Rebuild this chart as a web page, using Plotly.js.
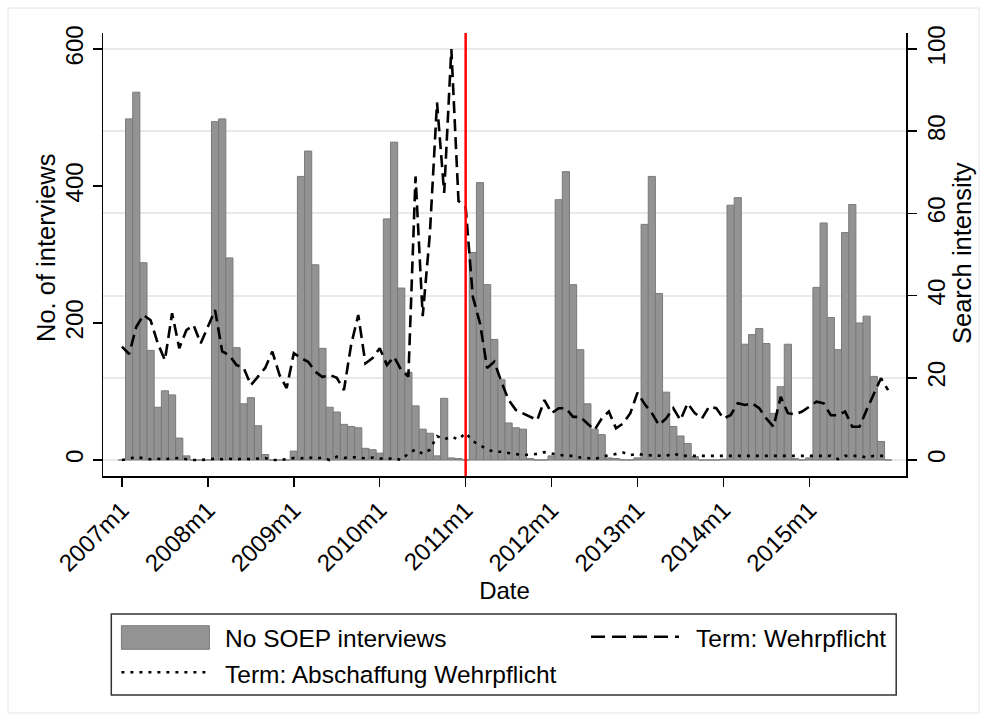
<!DOCTYPE html>
<html>
<head>
<meta charset="utf-8">
<script src="https://cdn.plot.ly/plotly-3.0.1.min.js"></script>
<style>html,body{margin:0;padding:0;background:#fff;}#chart{width:987px;height:723px;}</style>
</head>
<body>
<div id="chart"></div>
<script>
// Monthly data, 2007m1 ... 2015m12
const tickLabels = ["2007m1","2008m1","2009m1","2010m1","2011m1","2012m1","2013m1","2014m1","2015m1"];

// No. of SOEP interviews per month (left axis)
const interviews = [
  0,498,537,288,160,77,101,95,32,6,0,0,        // 2007
  0,494,498,295,164,82,91,50,8,0,0,0,          // 2008
  13,414,451,285,163,77,70,52,49,47,17,15,     // 2009
  10,352,464,251,128,79,45,39,6,90,3,2,        // 2010
  0,303,405,256,176,117,54,47,45,2,0,0,        // 2011
  6,380,421,256,161,82,45,37,3,2,0,0,          // 2012
  3,344,414,243,99,49,35,24,5,0,0,0,           // 2013
  1,372,383,169,183,192,170,68,107,169,2,0,    // 2014
  3,252,346,208,161,332,373,200,210,122,27,0   // 2015
];

// Search intensity "Wehrpflicht" (right axis)
const wehrpflicht = [
  27.6,25.8,32.4,35.3,34,28.4,24.3,35.7,27.2,31.6,32.8,28.4,
  32.4,36.5,26.4,25.5,23.1,22.4,18.2,20.2,22.4,26.4,20.7,17.5,
  26,24.8,23.9,21.5,20.2,20.7,20,17,28,35.3,23.5,24.8,
  27.2,23.1,25.1,21.9,20.3,69,35,55,87,65,100,63,
  61.6,39.7,33.3,22.4,23.9,19,14.6,12.2,11.4,10.7,9.7,14.6,
  11.4,12.6,12.6,10.5,10.5,8.9,7.3,10.1,11.8,7.7,8.9,11.4,
  16.4,13.6,11.4,8.5,10.1,12.6,9.7,13.8,11.4,10.1,13,12.6,
  10.1,10.9,13.8,13.4,13.8,12.6,10.1,8.1,15.4,11.4,11.1,11.8,
  13.1,14.2,13.8,10.9,10.9,11.8,8.1,8.1,12.2,16.2,19.9,17
];

// Search intensity "Abschaffung Wehrpflicht" (right axis)
const abschaffung = [
  0,0.3,0.8,0.4,0.2,0.3,0.2,0.3,0.5,0.2,0,0,
  0.2,0.3,0.2,0.3,0.2,0.3,0.2,0.3,0.5,0,0,0.2,
  0.5,0.4,0.7,0.3,0.6,0,0.8,0.5,0.7,0.6,0.4,0.6,
  0.4,0.2,0.5,0,1.6,2.6,1.5,2.5,5.8,5.0,5.7,5.0,
  6.6,4.6,3.6,2.6,2.0,2.0,1.7,1.5,1.2,1.3,1.5,1.9,
  1.6,1.2,1.0,1.0,0.6,0.5,0.2,0.8,1.1,1.5,1.8,1.2,
  1.5,1.2,1.1,1.0,1.0,1.6,1.0,1.0,1.0,1.0,1.0,1.0,
  1.0,1.0,1.0,1.0,1.0,1.0,1.0,1.0,1.0,1.0,1.0,1.0,
  1.0,1.0,1.0,1.0,0.2,1.0,1.0,1.0,0.6,1.0,1.0,1.0
];

const eventMonth = 48; // 2011m1

const months = interviews.map((_, i) => i);
const tickVals = tickLabels.map((_, i) => i * 12);

const FONT = "Liberation Sans, Arial, sans-serif";

const traces = [
  {type: "bar", x: months, y: interviews, name: "No SOEP interviews",
   marker: {color: "#939393", line: {color: "#7a7a7a", width: 1}},
   yaxis: "y", showlegend: false},
  {type: "scatter", mode: "lines", x: months, y: wehrpflicht, name: "Term: Wehrpflicht",
   line: {color: "#000", width: 2.6, dash: "12px,6px"}, yaxis: "y2", showlegend: false},
  {type: "scatter", mode: "lines", x: months, y: abschaffung, name: "Term: Abschaffung Wehrpflicht",
   line: {color: "#000", width: 2.6, dash: "3px,6px"}, yaxis: "y2", showlegend: false}
];

const PL = 103, PR = 906, PT = 33, PB = 476;
const W = PR - PL, H = PB - PT;
const px = v => (v - PL) / W;
const py = v => (PB - v) / H;

const layout = {
  width: 987, height: 723,
  margin: {l: PL, r: 987 - PR, t: PT, b: 723 - PB},
  paper_bgcolor: "#fff", plot_bgcolor: "#fff",
  font: {family: FONT, color: "#000", size: 24},
  bargap: 0,
  showlegend: false,
  xaxis: {
    range: [-2.65, 109.5], tickvals: tickVals, ticktext: tickLabels,
    tickangle: -45, ticks: "outside", ticklen: 9, tickwidth: 1.5, tickcolor: "#000",
    showline: true, linecolor: "#000", linewidth: 1.5, showgrid: false, zeroline: false,
    tickfont: {family: FONT, size: 24},
    title: {text: "Date", font: {family: FONT, size: 24}, standoff: 0}
  },
  yaxis: {
    range: [-23.4, 623.4], tickvals: [0, 200, 400, 600],
    tickangle: -90, ticks: "outside", ticklen: 9, tickwidth: 1.5, tickcolor: "#000",
    showline: true, linecolor: "#000", linewidth: 1.5, showgrid: false, zeroline: false,
    tickfont: {family: FONT, size: 24}
  },
  yaxis2: {
    range: [-3.89, 103.9], tickvals: [0, 20, 40, 60, 80, 100],
    overlaying: "y", side: "right",
    tickangle: -90, ticks: "outside", ticklen: 9, tickwidth: 1.5, tickcolor: "#000",
    showline: true, linecolor: "#000", linewidth: 1.5,
    showgrid: true, gridcolor: "#e9e9e9", gridwidth: 2, zeroline: false,
    tickfont: {family: FONT, size: 24}
  },
  shapes: [
    {type: "line", xref: "x", yref: "paper", x0: eventMonth, x1: eventMonth, y0: 0, y1: 1,
     line: {color: "#ff0000", width: 2.5}, layer: "above"},
    // legend box
    {type: "rect", xref: "paper", yref: "paper", x0: px(111.3), x1: px(896.2), y0: py(614), y1: py(695),
     line: {color: "#333", width: 1.5}, fillcolor: "#fff"},
    {type: "rect", xref: "paper", yref: "paper", x0: px(121.4), x1: px(209.4), y0: py(625.7), y1: py(649.3),
     line: {color: "#7a7a7a", width: 1}, fillcolor: "#939393"},
    {type: "line", xref: "paper", yref: "paper", x0: px(591), x1: px(679), y0: py(636.7), y1: py(636.7),
     line: {color: "#000", width: 2.6, dash: "14px,7px"}},
    {type: "line", xref: "paper", yref: "paper", x0: px(121.4), x1: px(209.4), y0: py(672.3), y1: py(672.3),
     line: {color: "#000", width: 2.6, dash: "3px,6px"}},
    // outer graph region border
    {type: "rect", xref: "paper", yref: "paper", x0: px(8), x1: px(979), y0: py(713), y1: py(8),
     line: {color: "#e4e4e4", width: 1}, fillcolor: "rgba(0,0,0,0)", layer: "below"}
  ],
  annotations: [
    // axis titles
    {xref: "paper", yref: "paper", x: px(46), y: py(247), xanchor: "center", yanchor: "middle",
     textangle: -90, text: "No. of interviews", showarrow: false, font: {family: FONT, size: 25.5}},
    {xref: "paper", yref: "paper", x: px(962), y: py(253), xanchor: "center", yanchor: "middle",
     textangle: -90, text: "Search intensity", showarrow: false, font: {family: FONT, size: 25.5}},
    // legend texts
    {xref: "paper", yref: "paper", x: px(223), y: py(638), xanchor: "left", yanchor: "middle",
     text: "No SOEP interviews", showarrow: false, font: {family: FONT, size: 24.5}},
    {xref: "paper", yref: "paper", x: px(694), y: py(638), xanchor: "left", yanchor: "middle",
     text: "Term: Wehrpflicht", showarrow: false, font: {family: FONT, size: 24.5}},
    {xref: "paper", yref: "paper", x: px(223), y: py(674), xanchor: "left", yanchor: "middle",
     text: "Term: Abschaffung Wehrpflicht", showarrow: false, font: {family: FONT, size: 24.5}}
  ]
};

Plotly.newPlot("chart", traces, layout, {staticPlot: true, displayModeBar: false});
</script>
</body>
</html>
